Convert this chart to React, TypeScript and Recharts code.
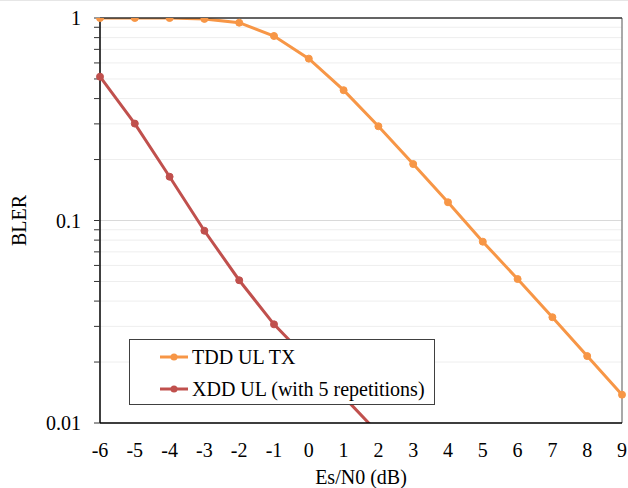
import { LineChart, Line, XAxis, YAxis, CartesianGrid, ReferenceLine } from "recharts";

const esn0 = [-6, -5, -4, -3, -2, -1, 0, 1, 2, 3, 4, 5, 6, 7, 8, 9];
const tddUlTx = [1, 1, 1, 0.99, 0.948, 0.815, 0.63, 0.44, 0.292, 0.19, 0.123, 0.0786, 0.0514, 0.0333, 0.0214, 0.0138];
const xddUl = [0.513, 0.301, 0.1645, 0.089, 0.0507, 0.0307, 0.0204, 0.0135, 0.0089, null, null, null, null, null, null, null];

const xTicks = [-6, -5, -4, -3, -2, -1, 0, 1, 2, 3, 4, 5, 6, 7, 8, 9];
const yTicks = [
  0.01, 0.02, 0.03, 0.04, 0.05, 0.06, 0.07, 0.08, 0.09,
  0.1, 0.2, 0.3, 0.4, 0.5, 0.6, 0.7, 0.8, 0.9, 1,
];
const yLabels = [0.01, 0.1, 1];

const ORANGE = "#F79646";
const RED = "#C0504D";
const FONT = "'Liberation Serif', 'Times New Roman', serif";

const data = esn0.map((x, i) => ({ x, tdd: tddUlTx[i], xdd: xddUl[i] }));

const series = [
  { key: "tdd", name: "TDD UL TX", color: ORANGE },
  { key: "xdd", name: "XDD UL (with 5 repetitions)", color: RED },
];

// legend drawn as an overlay so it doesn't eat plot space
const LegendBox = () => (
  <div
    style={{
      position: "absolute",
      left: 129,
      top: 339,
      width: 306,
      height: 66,
      border: "1px solid #404040",
      background: "#fff",
      padding: "1px 0 0 30px",
      boxSizing: "border-box",
      fontFamily: FONT,
      fontSize: 20,
      color: "#000",
    }}
  >
    {series.map((s) => (
      <div key={s.key} style={{ height: 32, display: "flex", alignItems: "center" }}>
        <svg width={28} height={10} style={{ marginRight: 4 }}>
          <line x1={0} y1={5} x2={28} y2={5} stroke={s.color} strokeWidth={3} />
          <circle cx={14} cy={5} r={3.5} fill={s.color} />
        </svg>
        <span style={{ fontFamily: FONT }}>{s.name}</span>
      </div>
    ))}
  </div>
);

export default function App() {
  return (
    <div style={{ position: "absolute", left: 0, top: 0, width: 628, height: 488, background: "#fff" }}>
      <div style={{ position: "absolute", left: 0, top: 0, width: 628, height: 1, background: "#e6e6e6" }} />
      <LineChart
        width={628}
        height={488}
        data={data}
        margin={{ top: 18, right: 6, bottom: 25, left: 0 }}
      >
        <CartesianGrid vertical={false} stroke="#eeeeee" strokeWidth={1} />
        <ReferenceLine y={0.1} stroke="#d9d9d9" />
        <ReferenceLine x={9} stroke="#8c8c8c" strokeWidth={1.5} />
        <XAxis
          dataKey="x"
          type="number"
          domain={[-6, 9]}
          ticks={xTicks}
          tickLine={false}
          tickSize={6}
          tickMargin={13.5}
          height={40}
          axisLine={{ stroke: "#000", strokeWidth: 1.5 }}
          tick={{ fontSize: 20, fill: "#000", fontFamily: FONT }}
          label={{
            value: "Es/N0  (dB)",
            position: "bottom",
            offset: 7,
            style: { fontSize: 20, fill: "#000", fontFamily: FONT },
          }}
        />
        <XAxis
          xAxisId="top"
          dataKey="x"
          type="number"
          orientation="top"
          domain={[-6, 9]}
          ticks={xTicks}
          mirror
          tick={false}
          tickSize={6}
          axisLine={{ stroke: "#333", strokeWidth: 1.5 }}
          tickLine={{ stroke: "#333" }}
        />
        <YAxis
          scale="log"
          domain={[0.01, 1]}
          ticks={yTicks}
          allowDataOverflow
          width={100}
          tickSize={6}
          tickMargin={13}
          interval={0}
          axisLine={{ stroke: "#000", strokeWidth: 1.5 }}
          tickLine={{ stroke: "#333" }}
          tick={{ fontSize: 20, fill: "#000", fontFamily: FONT }}
          tickFormatter={(v: number) => (yLabels.includes(v) ? String(v) : "")}
          label={{
            value: "BLER",
            angle: -90,
            position: "insideLeft",
            offset: 19,
            style: { fontSize: 20, fill: "#000", fontFamily: FONT, textAnchor: "middle" },
          }}
        />
        {series.map((s) => (
          <Line
            key={s.key}
            dataKey={s.key}
            name={s.name}
            stroke={s.color}
            strokeWidth={3}
            dot={{ r: 3.5, fill: s.color, stroke: s.color, strokeWidth: 1 }}
            isAnimationActive={false}
            connectNulls={false}
          />
        ))}
      </LineChart>
      <LegendBox />
    </div>
  );
}
